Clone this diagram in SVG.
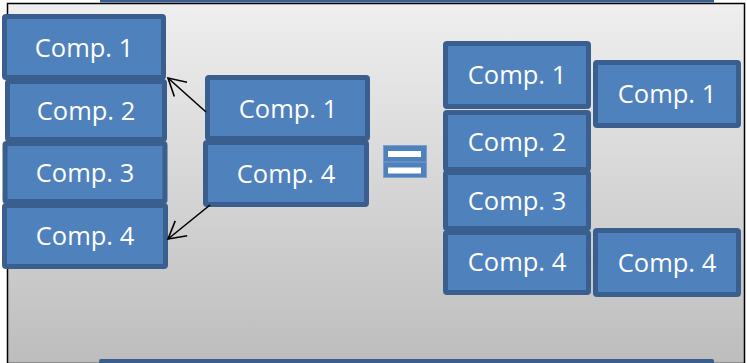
<svg xmlns="http://www.w3.org/2000/svg" width="747" height="363" viewBox="0 0 747 363">
  <defs>
    <linearGradient id="panelFill" x1="0" y1="0" x2="0" y2="1">
      <stop offset="0" stop-color="#efefef"/>
      <stop offset="1" stop-color="#bdbdbd"/>
    </linearGradient>
    <marker id="openArrow" markerUnits="userSpaceOnUse" markerWidth="24" markerHeight="24" viewBox="-20 -12 24 24" refX="0" refY="0" orient="auto">
      <path d="M-17,-9.5 L0,0 L-17,9.5" fill="none" stroke="#000" stroke-width="1.6"/>
    </marker>
    <style>
      .box rect { fill: #4f81bd; stroke: #3a5f8e; stroke-width: 5; }
      .box text { fill: #ffffff; font-family: "Open Sans", "Liberation Sans", sans-serif; font-size: 25.5px; text-anchor: middle; }
      .link { fill: none; stroke: #000; stroke-width: 1.6; marker-end: url(#openArrow); }
    </style>
  </defs>

  <!-- page background -->
  <rect x="0" y="0" width="747" height="363" fill="#ffffff"/>

  <!-- framed panel -->
  <rect x="7.5" y="3.5" width="737" height="360" fill="url(#panelFill)" stroke="#000" stroke-width="1.5"/>
  <rect x="100" y="0" width="614" height="2.5" fill="#3a5f8e"/>
  <rect x="99" y="359" width="615" height="6" rx="2" fill="#3a5f8e"/>

  <!-- left stack -->
  <g id="left-comp1" class="box">
    <rect x="4.5" y="16.5" width="159" height="61" rx="1.5"/>
    <text x="84" y="56.5">Comp. 1</text>
  </g>
  <g id="left-comp2" class="box">
    <rect x="7.5" y="81.5" width="157" height="58" rx="1.5"/>
    <text x="86" y="119.5">Comp. 2</text>
  </g>
  <g id="left-comp3" class="box">
    <rect x="5" y="143.5" width="160" height="58" rx="1.5"/>
    <text x="85" y="181.5">Comp. 3</text>
  </g>
  <g id="left-comp4" class="box">
    <rect x="4.5" y="205.5" width="161" height="61" rx="1.5"/>
    <text x="85" y="244.5">Comp. 4</text>
  </g>

  <!-- middle pair -->
  <g id="mid-comp1" class="box">
    <rect x="207.5" y="77.5" width="160" height="61" rx="1.5"/>
    <text x="288" y="117.5">Comp. 1</text>
  </g>
  <g id="mid-comp4" class="box">
    <rect x="205.5" y="142.5" width="161" height="62" rx="1.5"/>
    <text x="286" y="182.5">Comp. 4</text>
  </g>

  <!-- equals sign -->
  <g id="equals">
    <rect x="383.5" y="145.5" width="43" height="32" fill="#4f81bd" stroke="#7d9ecb" stroke-width="1"/>
    <line x1="384" y1="162" x2="426" y2="162" stroke="#7d9ecb" stroke-width="1"/>
    <rect x="388" y="151" width="33" height="6" fill="#ffffff"/>
    <rect x="388" y="167.5" width="33" height="6" fill="#ffffff"/>
  </g>

  <!-- right stack -->
  <g id="right-comp1" class="box">
    <rect x="445.5" y="43.5" width="143" height="63" rx="1.5"/>
    <text x="517" y="84">Comp. 1</text>
  </g>
  <g id="right-comp2" class="box">
    <rect x="445.5" y="112.5" width="143" height="57" rx="1.5"/>
    <text x="517" y="150.5">Comp. 2</text>
  </g>
  <g id="right-comp3" class="box">
    <rect x="445.5" y="172.5" width="143" height="56" rx="1.5"/>
    <text x="517" y="209.5">Comp. 3</text>
  </g>
  <g id="right-comp4" class="box">
    <rect x="445.5" y="232.5" width="143" height="60" rx="1.5"/>
    <text x="517" y="271">Comp. 4</text>
  </g>
  <g id="side-comp1" class="box">
    <rect x="595.5" y="62.5" width="143" height="63" rx="1.5"/>
    <text x="667" y="103">Comp. 1</text>
  </g>
  <g id="side-comp4" class="box">
    <rect x="595.5" y="230.5" width="143" height="64" rx="1.5"/>
    <text x="667" y="271.5">Comp. 4</text>
  </g>

  <!-- connectors -->
  <g id="connectors">
    <line class="link" x1="206" y1="112" x2="168" y2="78"/>
    <line class="link" x1="210" y1="205" x2="168" y2="239"/>
  </g>
</svg>
